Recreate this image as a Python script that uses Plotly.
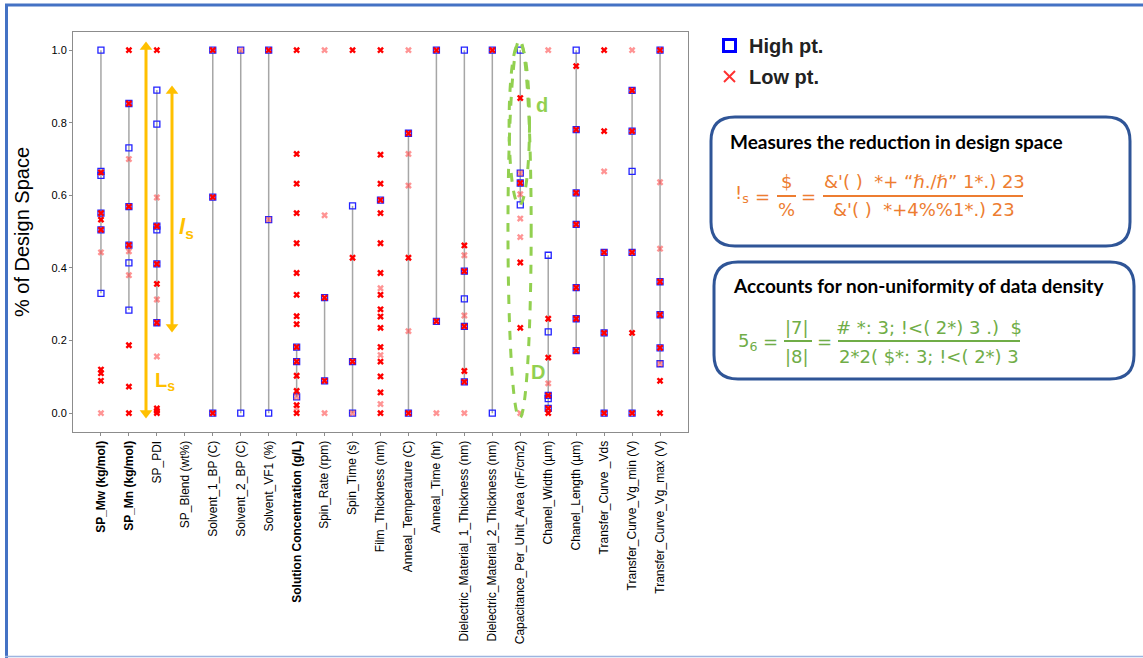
import plotly.graph_objects as go

# ---------------- data ----------------
categories = [
    "SP_Mw (kg/mol)", "SP_Mn (kg/mol)", "SP_PDI", "SP_Blend (wt%)", "Solvent_1_BP (C)",
    "Solvent_2_BP (C)", "Solvent_VF1 (%)", "Solution Concentration (g/L)", "Spin_Rate (rpm)",
    "Spin_Time (s)", "Film_Thickness (nm)", "Anneal_Temperature (C)", "Anneal_Time (hr)",
    "Dielectric_Material_1_Thickness (nm)", "Dielectric_Material_2_Thickness (nm)",
    "Capacitance_Per_Unit_Area (nF/cm2)", "Chanel_Width (µm)", "Chanel_Length (µm)",
    "Transfer_Curve _Vds", "Transfer_Curve_Vg_min (V)", "Transfer_Curve_Vg_max (V)",
]
bold_labels = ["SP_Mw (kg/mol)", "SP_Mn (kg/mol)", "Solution Concentration (g/L)"]

high_pts = [
    [1.0, 0.666, 0.655, 0.551, 0.505, 0.330],
    [0.853, 0.731, 0.569, 0.463, 0.414, 0.284],
    [0.890, 0.796, 0.515, 0.505, 0.411, 0.249],
    [],
    [1.0, 0.595, 0.0],
    [1.0, 0.0],
    [1.0, 0.533, 0.0],
    [0.182, 0.142, 0.045],
    [0.318, 0.089],
    [0.571, 0.142, 0.0],
    [0.587],
    [0.771, 0.0],
    [1.0, 0.253],
    [1.0, 0.391, 0.315, 0.239, 0.086],
    [1.0, 0.0],
    [1.0, 0.661, 0.634, 0.574],
    [0.435, 0.224, 0.049, 0.040, 0.013],
    [1.0, 0.781, 0.607, 0.520, 0.346, 0.260, 0.172],
    [0.443, 0.221, 0.0],
    [0.889, 0.777, 0.666, 0.443, 0.0],
    [1.0, 0.362, 0.271, 0.180, 0.136],
]

low_pts_dark = [
    [0.663, 0.551, 0.533, 0.505, 0.120, 0.110, 0.089],
    [1.0, 0.853, 0.569, 0.463, 0.187, 0.073, 0.0],
    [1.0, 0.515, 0.411, 0.356, 0.249, 0.013, 0.006, 0.0],
    [],
    [1.0, 0.595, 0.0],
    [],
    [1.0],
    [1.0, 0.714, 0.632, 0.551, 0.468, 0.386, 0.326, 0.267, 0.245, 0.182, 0.142, 0.103, 0.061, 0.022, 0.0],
    [0.318, 0.089],
    [1.0, 0.428, 0.142],
    [1.0, 0.712, 0.632, 0.587, 0.551, 0.468, 0.386, 0.326, 0.286, 0.266, 0.235, 0.182, 0.142, 0.101, 0.057, 0.0],
    [0.771, 0.428, 0.0],
    [1.0, 0.253],
    [0.462, 0.391, 0.239, 0.116, 0.086],
    [1.0],
    [0.868, 0.634, 0.415, 0.235],
    [0.260, 0.153, 0.049, 0.013, 0.0],
    [0.956, 0.781, 0.607, 0.520, 0.346, 0.260, 0.172],
    [1.0, 0.777, 0.443, 0.221, 0.0],
    [0.889, 0.777, 0.443, 0.221, 0.0],
    [1.0, 0.362, 0.271, 0.180, 0.089, 0.0],
]

low_pts_light = [
    [0.443, 0.0],
    [0.700, 0.446, 0.380],
    [0.594, 0.313, 0.156],
    [],
    [],
    [1.0],
    [0.533],
    [0.045, 0.013],
    [1.0, 0.545, 0.0],
    [0.0],
    [0.344, 0.160, 0.025],
    [1.0, 0.714, 0.627, 0.226],
    [0.0],
    [0.435, 0.269, 0.0],
    [],
    [0.661, 0.603, 0.536, 0.485, 0.0],
    [1.0, 0.082],
    [],
    [0.666],
    [1.0],
    [0.636, 0.453, 0.136],
]

# ---------------- geometry helpers (pixel -> paper) ----------------
W_FIG, H_FIG = 1143, 658
L, R, T, B = 73, 688, 32, 432
PW, PH = R - L, B - T
Y0, Y1 = -0.052, 1.05
X0, X1 = -1, 21


def xp(px):
    return (px - L) / PW


def yp(py):
    return (B - py) / PH


def xd(px):
    return X0 + (px - L) / PW * (X1 - X0)


def yd(py):
    return Y0 + (B - py) / PH * (Y1 - Y0)


def rounded_path(x0, y0, x1, y1, r):
    pts = [
        ("M", [(x0 + r, y0)]), ("L", [(x1 - r, y0)]), ("Q", [(x1, y0), (x1, y0 + r)]),
        ("L", [(x1, y1 - r)]), ("Q", [(x1, y1), (x1 - r, y1)]), ("L", [(x0 + r, y1)]),
        ("Q", [(x0, y1), (x0, y1 - r)]), ("L", [(x0, y0 + r)]), ("Q", [(x0, y0), (x0 + r, y0)]),
    ]
    s = ""
    for cmd, ps in pts:
        s += cmd + " " + " ".join(f"{xp(a):.5f},{yp(b):.5f}" for a, b in ps) + " "
    return s + "Z"


fig = go.Figure()

# vertical gray ranges (min..max of high points)
lx, ly = [], []
for i, vals in enumerate(high_pts):
    if len(vals) > 1:
        lx += [i, i, None]
        ly += [min(vals), max(vals), None]
fig.add_trace(go.Scatter(x=lx, y=ly, mode="lines", line=dict(color="#A6A6A6", width=1.5),
                         showlegend=False, hoverinfo="skip"))

hx = [i for i, v in enumerate(high_pts) for _ in v]
hy = [y for v in high_pts for y in v]
fig.add_trace(go.Scatter(x=hx, y=hy, mode="markers", name="High pt.",
                         marker=dict(symbol="square-open", size=6, color="#2222FF",
                                     line=dict(width=1.3, color="#2222FF")),
                         showlegend=False))

llx = [i for i, v in enumerate(low_pts_light) for _ in v]
lly = [y for v in low_pts_light for y in v]
fig.add_trace(go.Scatter(x=llx, y=lly, mode="markers", name="Low pt.",
                         marker=dict(symbol="x", size=6, color="rgba(255,60,60,0.55)",
                                     line=dict(width=0)),
                         showlegend=False))

ldx = [i for i, v in enumerate(low_pts_dark) for _ in v]
ldy = [y for v in low_pts_dark for y in v]
fig.add_trace(go.Scatter(x=ldx, y=ldy, mode="markers", name="Low pt.",
                         marker=dict(symbol="x", size=6, color="#FF0000",
                                     line=dict(width=0)),
                         showlegend=False))

# orange double-headed arrows (decoration) drawn as a line + triangle heads
GOLD = "#FFC000"
for (apx, ptop, pbot) in [(146, 42, 418), (172, 86, 332)]:
    fig.add_trace(go.Scatter(x=[xd(apx), xd(apx)], y=[yd(ptop + 6), yd(pbot - 6)], mode="lines",
                             line=dict(color=GOLD, width=3), showlegend=False, hoverinfo="skip"))
    fig.add_trace(go.Scatter(x=[xd(apx), xd(apx)], y=[yd(ptop + 5), yd(pbot - 5)], mode="markers",
                             marker=dict(symbol=["triangle-up", "triangle-down"], size=11, color=GOLD,
                                         line=dict(width=0)),
                             showlegend=False, hoverinfo="skip"))

ticktext = [f"<b>{c}</b>" if c in bold_labels else c for c in categories]

fig.update_layout(
    width=W_FIG, height=H_FIG,
    margin=dict(l=L, r=W_FIG - R, t=T, b=H_FIG - B, pad=0),
    paper_bgcolor="white", plot_bgcolor="white",
    font=dict(family="Liberation Sans, Arial", color="black"),
    showlegend=False,
    xaxis=dict(range=[X0, X1], tickvals=list(range(len(categories))), ticktext=ticktext,
               tickangle=-90, tickfont=dict(size=12, color="black"), showgrid=False,
               zeroline=False, showline=True, mirror=True, linecolor="#8C8C8C", linewidth=1,
               ticks="outside", ticklen=3, tickcolor="#8C8C8C"),
    yaxis=dict(range=[Y0, Y1], tickvals=[0, 0.2, 0.4, 0.6, 0.8, 1.0], tickformat=".1f",
               tickfont=dict(size=11, color="black"), showgrid=False, zeroline=False,
               showline=True, mirror=True, linecolor="#8C8C8C", linewidth=1,
               ticks="outside", ticklen=3, tickcolor="#8C8C8C",
               title=dict(text="% of Design Space", font=dict(size=20, color="black"), standoff=16)),
)

shapes = []
annotations = []

# outer frame (top + left thick, bottom thin light)
FRAME = "#4472C4"
shapes.append(dict(type="line", xref="paper", yref="paper", x0=xp(5), x1=xp(1143), y0=yp(5), y1=yp(5),
                   line=dict(color=FRAME, width=3)))
shapes.append(dict(type="line", xref="paper", yref="paper", x0=xp(6.5), x1=xp(6.5), y0=yp(4), y1=yp(658),
                   line=dict(color=FRAME, width=3)))
shapes.append(dict(type="line", xref="paper", yref="paper", x0=xp(5), x1=xp(1143), y0=yp(656.5), y1=yp(656.5),
                   line=dict(color="#9DB5E0", width=1.5)))

# green dashed ellipses (d, D)
GREEN = "#92D050"
shapes.append(dict(type="circle", xref="x", yref="y", x0=14.56, x1=15.39, y0=-0.014, y1=1.028,
                   line=dict(color=GREEN, width=3, dash="dash")))
shapes.append(dict(type="circle", xref="x", yref="y", x0=14.6, x1=15.33, y0=0.573, y1=1.02,
                   line=dict(color=GREEN, width=3, dash="dash")))
annotations.append(dict(x=xd(542), y=yd(105), xref="x", yref="y", text="<b>d</b>", showarrow=False,
                        font=dict(size=20, color=GREEN, family="Liberation Sans")))
annotations.append(dict(x=xd(538), y=yd(372), xref="x", yref="y", text="<b>D</b>", showarrow=False,
                        font=dict(size=20, color=GREEN, family="Liberation Sans")))

annotations.append(dict(x=xd(186), y=yd(228), xref="x", yref="y", text="<b><i>l</i><sub>s</sub></b>",
                        showarrow=False, font=dict(size=22, color=GOLD, family="Liberation Sans")))
annotations.append(dict(x=xd(165), y=yd(381), xref="x", yref="y", text="<b>L<sub>s</sub></b>",
                        showarrow=False, font=dict(size=20, color=GOLD, family="Liberation Sans")))

# manual legend
shapes.append(dict(type="rect", xref="paper", yref="paper", x0=xp(723.5), x1=xp(735.5), y0=yp(51.5), y1=yp(39.5),
                   line=dict(color="#0000FF", width=3)))
shapes.append(dict(type="line", xref="paper", yref="paper", x0=xp(724), x1=xp(735), y0=yp(71), y1=yp(82),
                   line=dict(color="#FF3030", width=2)))
shapes.append(dict(type="line", xref="paper", yref="paper", x0=xp(724), x1=xp(735), y0=yp(82), y1=yp(71),
                   line=dict(color="#FF3030", width=2)))
annotations.append(dict(x=xp(747), y=yp(46), xref="paper", yref="paper", xanchor="left", yanchor="middle",
                        text="<b>High pt.</b>", showarrow=False, font=dict(size=20, color="#222")))
annotations.append(dict(x=xp(747), y=yp(77), xref="paper", yref="paper", xanchor="left", yanchor="middle",
                        text="<b>Low pt.</b>", showarrow=False, font=dict(size=20, color="#222")))

# rounded boxes
BOXC = "#2F5597"
shapes.append(dict(type="path", xref="paper", yref="paper", path=rounded_path(711, 117, 1130, 246, 24),
                   line=dict(color=BOXC, width=3)))
shapes.append(dict(type="path", xref="paper", yref="paper", path=rounded_path(714, 262, 1134, 379, 24),
                   line=dict(color=BOXC, width=3)))

annotations.append(dict(x=xp(728), y=yp(141), xref="paper", yref="paper", xanchor="left", yanchor="middle",
                        text="<b>Measures the reduction in design space</b>", showarrow=False,
                        font=dict(size=19, color="black", family="Lato")))
annotations.append(dict(x=xp(731), y=yp(285), xref="paper", yref="paper", xanchor="left", yanchor="middle",
                        text="<b>Accounts for non-uniformity of data density</b>", showarrow=False,
                        font=dict(size=19, color="black", family="Lato")))

ORANGE = "#ED7D31"
FF = "DejaVu Sans"


def txt(px, py, s, color, size=18, anchor="center"):
    annotations.append(dict(x=xp(px), y=yp(py), xref="paper", yref="paper", xanchor=anchor, yanchor="middle",
                            text=s, showarrow=False, font=dict(size=size, color=color, family=FF)))


def bar(x0, x1, py, color):
    shapes.append(dict(type="line", xref="paper", yref="paper", x0=xp(x0), x1=xp(x1), y0=yp(py), y1=yp(py),
                       line=dict(color=color, width=2)))


# formula 1 (orange)
txt(742, 194, "!<sub>s</sub>", ORANGE)
txt(762, 196, "=", ORANGE)
txt(786, 181, "$", ORANGE)
bar(777, 796, 196, ORANGE)
txt(786, 210, "%", ORANGE)
txt(808, 196, "=", ORANGE)
txt(924, 181, "&amp;'( )  *+ “ℏ./ℏ” 1*.) 23", ORANGE)
bar(823, 1023, 196, ORANGE)
txt(924, 210, "&amp;'( )  *+4%%1*.) 23", ORANGE)

# formula 2 (green)
GREEN2 = "#70AD47"
txt(747, 342, "5<sub>6</sub>", GREEN2)
txt(770, 341, "=", GREEN2)
txt(797, 327, "|7|", GREEN2)
bar(784, 812, 341, GREEN2)
txt(797, 356, "|8|", GREEN2)
txt(824, 341, "=", GREEN2)
txt(929, 327, "# *: 3; !&lt;( 2*) 3 .)  $", GREEN2)
bar(838, 1020, 341, GREEN2)
txt(929, 356, "2*2( $*: 3; !&lt;( 2*) 3", GREEN2)

fig.update_layout(shapes=shapes, annotations=annotations)
fig.write_html("out.html", config={"displayModeBar": False},
               post_script="document.body.style.margin='0';document.body.style.overflow='hidden';")
